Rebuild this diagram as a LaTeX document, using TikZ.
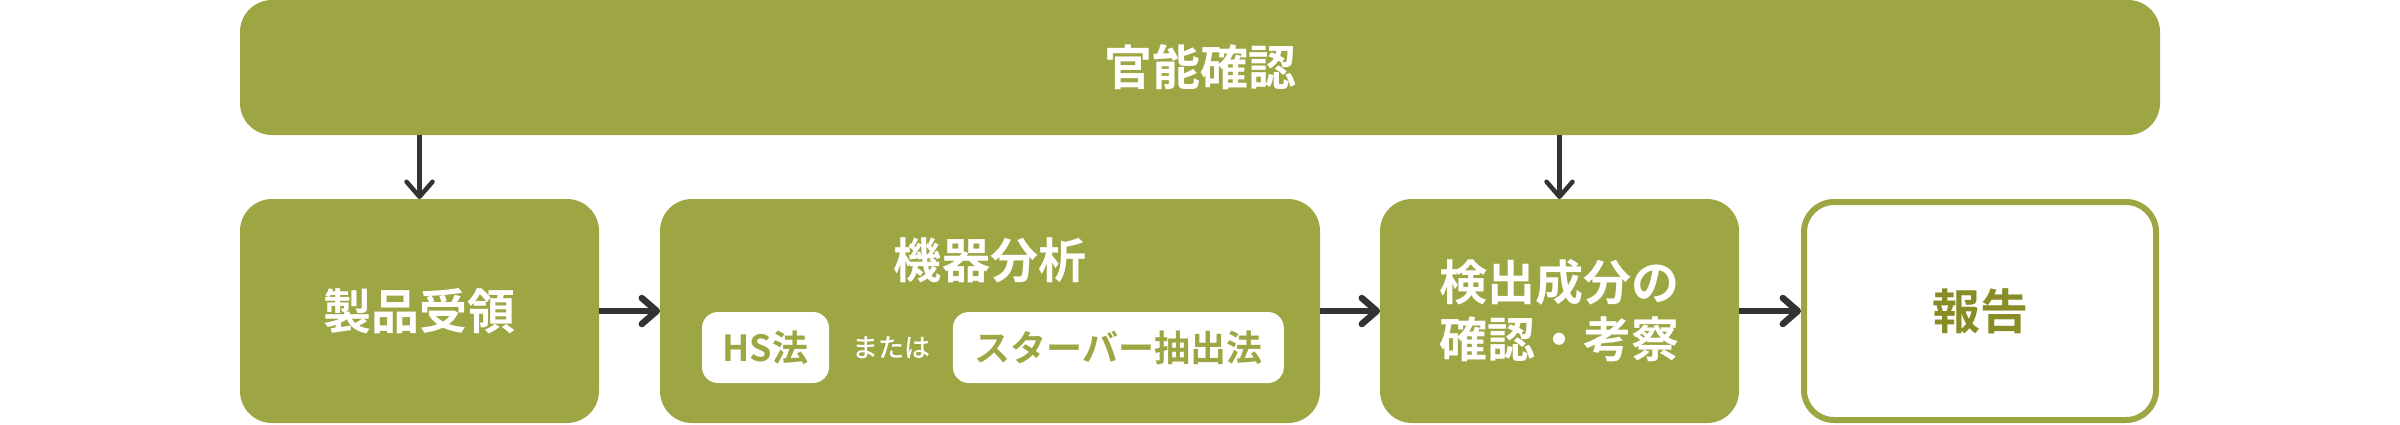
\documentclass[tikz,border=0pt]{standalone}
\usepackage{fontspec}
\setmainfont{Noto Sans CJK JP Medium}[BoldFont={Noto Sans CJK JP Bold}]
\usepackage{tikz}
\usetikzlibrary{positioning, calc}
\usetikzlibrary{arrows.meta}
\definecolor{olivegreen}{HTML}{9EA543}
\definecolor{olivedark}{HTML}{878C26}
\definecolor{arrowgray}{HTML}{333333}
\tikzstyle{greenbox}=[rectangle,rounded corners=0.32cm,fill=olivegreen,text=white,font=\fontsize{13.66pt}{16.2pt}\selectfont\bfseries,align=center,inner sep=0pt,outer sep=0pt,minimum height=2.24cm]
\tikzstyle{whitebox}=[rectangle,rounded corners=0.3cm,draw=olivegreen,line width=0.06cm,fill=white,text=olivedark,font=\fontsize{13.66pt}{16.2pt}\selectfont\bfseries,inner sep=0pt]
\tikzstyle{subbox}=[rectangle,rounded corners=0.16cm,fill=white,text=olivegreen,font=\fontsize{10.24pt}{12pt}\selectfont\bfseries,inner sep=0pt,minimum height=0.71cm]
\tikzstyle{ortext}=[text=white,font=\fontsize{7.4pt}{9pt}\selectfont,inner sep=0pt]
\tikzstyle{edgepath} = [-{Straight Barb[length=0.15cm,width=0.26cm,line cap=round,line join=round]},line width=0.045cm,draw=arrowgray]

\begin{document}
\begin{tikzpicture}[node distance=0.61cm]
        \useasboundingbox (0,0) rectangle (24,-4.24);
        \node[greenbox, minimum width=19.2cm, minimum height=1.35cm] (kanno) at (12,-0.675) {官能確認};
        \node[greenbox, minimum width=3.59cm] (juryo) at (4.195,-3.11) {製品受領};
        \node[greenbox, minimum width=6.6cm, right =of juryo] (bunseki) {};
        \node[greenbox, minimum width=3.59cm, right =0.6cm of bunseki] (kakunin) {検出成分の\\確認・考察};
        \node[whitebox, minimum width=3.52cm, minimum height=2.18cm, right =0.62cm of kakunin] (hokoku) {報告};
        
        \node[greenbox, minimum height=0pt] (bunsekititle) at ($(bunseki.north)+(0,-0.61)$) {機器分析};
        \node[subbox, minimum width=1.27cm] (hs) at (7.655,-3.475) {HS法};
        \node[ortext, right =0.22cm of hs] (mataha) {または};
        \node[subbox, minimum width=3.31cm, right =0.21cm of mataha] (stirbar) {スターバー抽出法};
        
        \draw[edgepath] (kanno.south -| juryo.north) -- (juryo.north);
        \draw[edgepath] (kanno.south -| kakunin.north) -- (kakunin.north);
        \draw[edgepath, line width=0.065cm] (juryo) -- (bunseki);
        \draw[edgepath, line width=0.065cm] (bunseki) -- (kakunin);
        \draw[edgepath, line width=0.065cm] (kakunin) -- (hokoku.west);
    \end{tikzpicture}
\end{document}
